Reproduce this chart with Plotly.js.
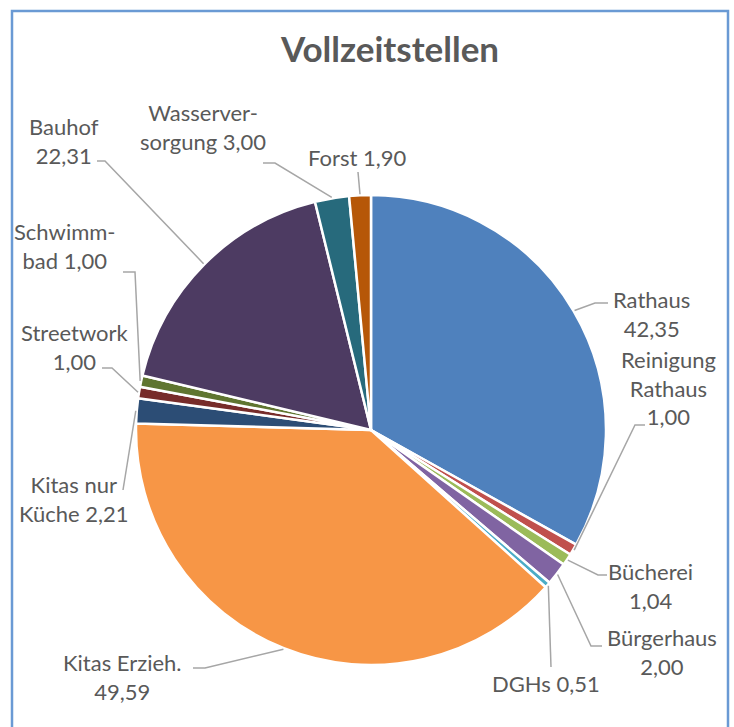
<!DOCTYPE html>
<html><head><meta charset="utf-8">
<script src="https://cdn.plot.ly/plotly-3.0.1.min.js"></script>
<style>html,body{margin:0;padding:0;background:#fff}</style>
</head><body><div id="chart" style="width:734px;height:727px"></div>
<script>
// ---- data ----
const categories = ["Rathaus","Reinigung Rathaus","Bücherei","Bürgerhaus","DGHs","Kitas Erzieh.","Kitas nur Küche","Streetwork","Schwimmbad","Bauhof","Wasserversorgung","Forst"];
const values = [42.35, 1.00, 1.04, 2.00, 0.51, 49.59, 2.21, 1.00, 1.00, 22.31, 3.00, 1.90];
const labelNames = ["Rathaus<br>","Reinigung<br>Rathaus<br>","Bücherei<br>","Bürgerhaus<br>","DGHs ","Kitas Erzieh.<br>","Kitas nur<br>Küche ","Streetwork<br>","Schwimm-<br>bad ","Bauhof<br>","Wasserver-<br>sorgung ","Forst "];
const chartTitle = "Vollzeitstellen";

// ---- styles / layout ----
const colors = ["#4F81BD","#C0504D","#9BBB59","#8064A2","#4BACC6","#F79646","#2C4D75","#772C2A","#5F7530","#4D3B62","#276A7C","#B65708"];
const W = 734, H = 727, CX = 371, CY = 430, R = 235;
const labelCenters = [[651,314],[668,388],[650,586],[662,652],[546,683],[122,677],[74,499],[75,347],[65,246],[64,141],[203,127],[357,157]];
const leaderElbows = [
  [[595,303],[608,303]],
  [[635,425],[645,425]],
  [[598,575],[607,575]],
  [[591,646],[602,646]],
  [[551,667]],
  [[205,668],[193,668]],
  [[123,490]],
  [[112,368],[102,368]],
  [[135,272],[123,272]],
  [[105,161],[97,161]],
  [[275,163],[263,163]],
  [[358,172]]
];
const textColor = "#595959";
const fontFamily = "Lato, 'Open Sans', sans-serif";

const px = x => x / W;
const py = y => 1 - y / H;
const fmt = v => v.toFixed(2).replace(".", ",");

const total = values.reduce((a, b) => a + b, 0);
let cum = 0;
const shapes = [];
const annotations = [];
values.forEach((v, i) => {
  const mid = (cum + v / 2) / total;
  cum += v;
  const th = 2 * Math.PI * mid;
  const tx = CX + (R + 1) * Math.sin(th);
  const ty = CY - (R + 1) * Math.cos(th);
  let path = "M " + px(tx) + " " + py(ty);
  leaderElbows[i].forEach(p => { path += " L " + px(p[0]) + " " + py(p[1]); });
  shapes.push({type: "path", xref: "paper", yref: "paper", path: path,
    line: {color: "#A6A6A6", width: 1.5}});
  annotations.push({xref: "paper", yref: "paper", x: px(labelCenters[i][0]), y: py(labelCenters[i][1]),
    xanchor: "center", yanchor: "middle", align: "center", showarrow: false,
    text: labelNames[i] + fmt(v), font: {family: fontFamily, size: 22, color: textColor}});
});

// chart border
shapes.push({type: "rect", xref: "paper", yref: "paper", x0: px(12), x1: px(728), y0: py(745), y1: py(11),
  line: {color: "#6A9AD4", width: 2.5}, fillcolor: "rgba(0,0,0,0)"});

const trace = {
  type: "pie",
  labels: categories,
  values: values,
  sort: false,
  direction: "clockwise",
  rotation: 0,
  textinfo: "none",
  hoverinfo: "label+value",
  showlegend: false,
  marker: {colors: colors, line: {color: "#FFFFFF", width: 2.5}},
  domain: {x: [px(CX - R), px(CX + R)], y: [py(CY + R), py(CY - R)]}
};

const layout = {
  width: W, height: H,
  margin: {l: 0, r: 0, t: 0, b: 0},
  paper_bgcolor: "#FFFFFF",
  showlegend: false,
  title: {text: "<b>" + chartTitle + "</b>", x: px(390), xanchor: "center", y: py(50), yanchor: "middle",
    xref: "paper", yref: "paper", font: {family: fontFamily, size: 35, color: textColor}},
  shapes: shapes,
  annotations: annotations
};

Plotly.newPlot("chart", [trace], layout, {displayModeBar: false, staticPlot: true});
</script></body></html>
